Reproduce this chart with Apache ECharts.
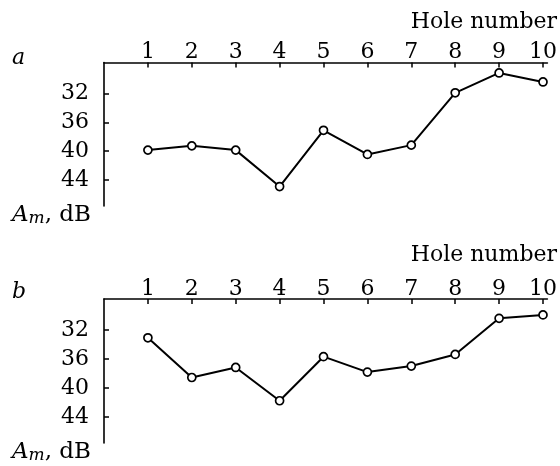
<!DOCTYPE html>
<html><head><meta charset="utf-8">
<script src="https://cdn.jsdelivr.net/npm/echarts@6/dist/echarts.min.js"></script>
<style>html,body{margin:0;padding:0;background:#fff}#c{width:560px;height:466px}</style>
</head><body><div id="c"></div>
<script>
const holes = [1, 2, 3, 4, 5, 6, 7, 8, 9, 10];
const ampA = [39.85, 39.26, 39.85, 44.9, 37.1, 40.45, 39.16, 31.9, 29.15, 30.4];
const ampB = [33.06, 38.55, 37.16, 41.76, 35.67, 37.8, 36.97, 35.36, 30.37, 29.9];
const yTicks = [32, 36, 40, 44];
const xTitle = 'Hole number';
const panelLabels = ['a', 'b'];

const FONT = 'DejaVu Serif';
const FS = 22;
const chart = echarts.init(document.getElementById('c'), null, {renderer: 'canvas'});

function xAx(i) {
  return {
    type: 'value', gridIndex: i, position: 'top', min: 0, max: 10.1,
    axisLine: {show: true, onZero: false, lineStyle: {color: '#000', width: 1.6}},
    axisTick: {show: true, inside: true, length: 5, customValues: holes, lineStyle: {color: '#000', width: 1.5}},
    axisLabel: {show: true, customValues: holes, margin: -1, color: '#000', fontFamily: FONT, fontSize: FS},
    splitLine: {show: false}
  };
}
function yAx(i) {
  return {
    type: 'value', gridIndex: i, inverse: true, min: 27.7, max: 47.6,
    axisLine: {show: true, onZero: false, lineStyle: {color: '#000', width: 1.6}},
    axisTick: {show: true, inside: true, length: 5, customValues: yTicks, lineStyle: {color: '#000', width: 1.5}},
    axisLabel: {show: true, customValues: yTicks, margin: 15, color: '#000', fontFamily: FONT, fontSize: FS, padding: [4, 0, 0, 0]},
    splitLine: {show: false}
  };
}
function ser(i, vals) {
  return {
    type: 'line', xAxisIndex: i, yAxisIndex: i,
    data: holes.map((h, k) => [h, vals[k]]),
    symbol: 'circle', symbolSize: 8, showSymbol: true,
    lineStyle: {color: '#000', width: 2},
    itemStyle: {color: '#fff', borderColor: '#000', borderWidth: 1.7},
    animation: false
  };
}
function amLabel(y) {
  return {
    type: 'text', left: 12, top: y,
    style: {
      text: '{i|A}{s|m}{n|, dB}',
      rich: {
        i: {fontFamily: FONT, fontStyle: 'italic', fontSize: 23, fill: '#000'},
        s: {fontFamily: FONT, fontStyle: 'italic', fontSize: 17, fill: '#000', verticalAlign: 'bottom'},
        n: {fontFamily: FONT, fontSize: 23, fill: '#000'}
      }
    }
  };
}

chart.setOption({
  backgroundColor: '#fff',
  animation: false,
  grid: [
    {left: 104, right: 10, top: 62.5, height: 143.5},
    {left: 104, right: 10, top: 299, height: 144}
  ],
  xAxis: [xAx(0), xAx(1)],
  yAxis: [yAx(0), yAx(1)],
  series: [ser(0, ampA), ser(1, ampB)],
  graphic: [
    {type: 'text', right: 3, top: 11, style: {text: xTitle, fontFamily: FONT, fontSize: FS, fill: '#000'}},
    {type: 'text', right: 3, top: 244, style: {text: xTitle, fontFamily: FONT, fontSize: FS, fill: '#000'}},
    {type: 'text', left: 12, top: 47, style: {text: panelLabels[0], fontFamily: FONT, fontStyle: 'italic', fontSize: FS, fill: '#000'}},
    {type: 'text', left: 12, top: 281, style: {text: panelLabels[1], fontFamily: FONT, fontStyle: 'italic', fontSize: FS, fill: '#000'}},
    amLabel(204),
    amLabel(441)
  ]
});
</script></body></html>
